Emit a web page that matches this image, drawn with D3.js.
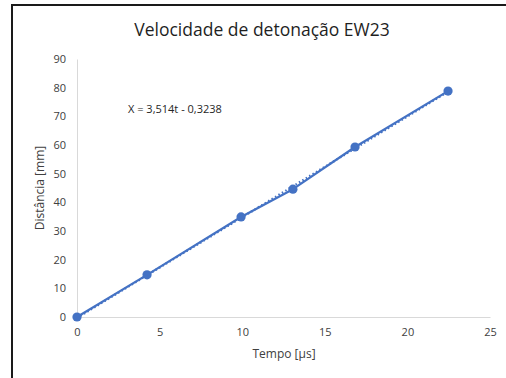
<!DOCTYPE html>
<html>
<head>
<meta charset="utf-8">
<script src="https://cdn.jsdelivr.net/npm/d3@7"></script>
<style>
  html, body { margin: 0; padding: 0; background: #fff; }
  svg { display: block; }
</style>
</head>
<body>
<svg id="chart" width="506" height="378"></svg>
<script>
// Measured detonation front positions
const tempo = [0, 4.24, 9.93, 13.07, 16.83, 22.46];          // µs
const distancia = [0, 14.7, 34.9, 44.6, 59.3, 78.8];         // mm
// Linear trend line X = a·t + b
const slope = 3.514;
const intercept = -0.3238;
const xTicks = [0, 5, 10, 15, 20, 25];
const yTicks = [0, 10, 20, 30, 40, 50, 60, 70, 80, 90];
const titleText = "Velocidade de detonação EW23";
const xTitle = "Tempo [µs]";
const yTitle = "Distância [mm]";
const equationText = "X = 3,514t - 0,3238";

const svg = d3.select("#chart");
const font = "'Open Sans', 'Liberation Sans', sans-serif";
const blue = "#4472C4";

// Outer frame (left and top edges visible)
svg.append("rect")
  .attr("x", 12).attr("y", 5)
  .attr("width", 520).attr("height", 400)
  .attr("fill", "none").attr("stroke", "#1a1a1a").attr("stroke-width", 2);

const x = d3.scaleLinear().domain([0, 25]).range([77, 490]);
const y = d3.scaleLinear().domain([0, 90]).range([317, 59]);

// Axes
const xAxis = svg.append("g").attr("transform", `translate(0,${y(0)})`)
  .call(d3.axisBottom(x).tickValues(xTicks).tickSize(0).tickPadding(11).tickFormat(d3.format("d")));
const yAxis = svg.append("g").attr("transform", `translate(${x(0)},0)`)
  .call(d3.axisLeft(y).tickValues(yTicks).tickSize(0).tickPadding(11).tickFormat(d3.format("d")));
[xAxis, yAxis].forEach(g => {
  g.select(".domain").attr("stroke", "#d9d9d9").attr("stroke-width", 1);
  g.selectAll("text").attr("fill", "#404040").style("font-family", font).style("font-size", "11px");
});

// Trend line, dotted
const tMin = d3.min(tempo), tMax = d3.max(tempo);
svg.append("line")
  .attr("x1", x(tMin)).attr("y1", y(slope * tMin + intercept))
  .attr("x2", x(tMax)).attr("y2", y(slope * tMax + intercept))
  .attr("stroke", blue).attr("stroke-width", 2.25)
  .attr("stroke-dasharray", "1.5,2.5");

// Series line and markers
const pts = tempo.map((t, i) => [t, distancia[i]]);
svg.append("path")
  .datum(pts)
  .attr("d", d3.line().x(d => x(d[0])).y(d => y(d[1])))
  .attr("fill", "none").attr("stroke", blue).attr("stroke-width", 2.25)
  .attr("stroke-linejoin", "round");
svg.selectAll("circle.pt").data(pts).enter().append("circle")
  .attr("class", "pt")
  .attr("cx", d => x(d[0])).attr("cy", d => y(d[1]))
  .attr("r", 4.6).attr("fill", blue);

// Title
svg.append("text")
  .attr("x", 262).attr("y", 36).attr("text-anchor", "middle")
  .attr("fill", "#1f1f1f").style("font-family", font).style("font-size", "17.5px")
  .text(titleText);

// Axis titles
svg.append("text")
  .attr("x", 284).attr("y", 358).attr("text-anchor", "middle")
  .attr("fill", "#404040").style("font-family", font).style("font-size", "12px")
  .text(xTitle);
svg.append("text")
  .attr("transform", "translate(44,188) rotate(-90)").attr("text-anchor", "middle")
  .attr("fill", "#404040").style("font-family", font).style("font-size", "12px")
  .text(yTitle);

// Trend equation
svg.append("text")
  .attr("x", 128).attr("y", 113)
  .attr("fill", "#262626").style("font-family", font).style("font-size", "11px")
  .text(equationText);
</script>
</body>
</html>
